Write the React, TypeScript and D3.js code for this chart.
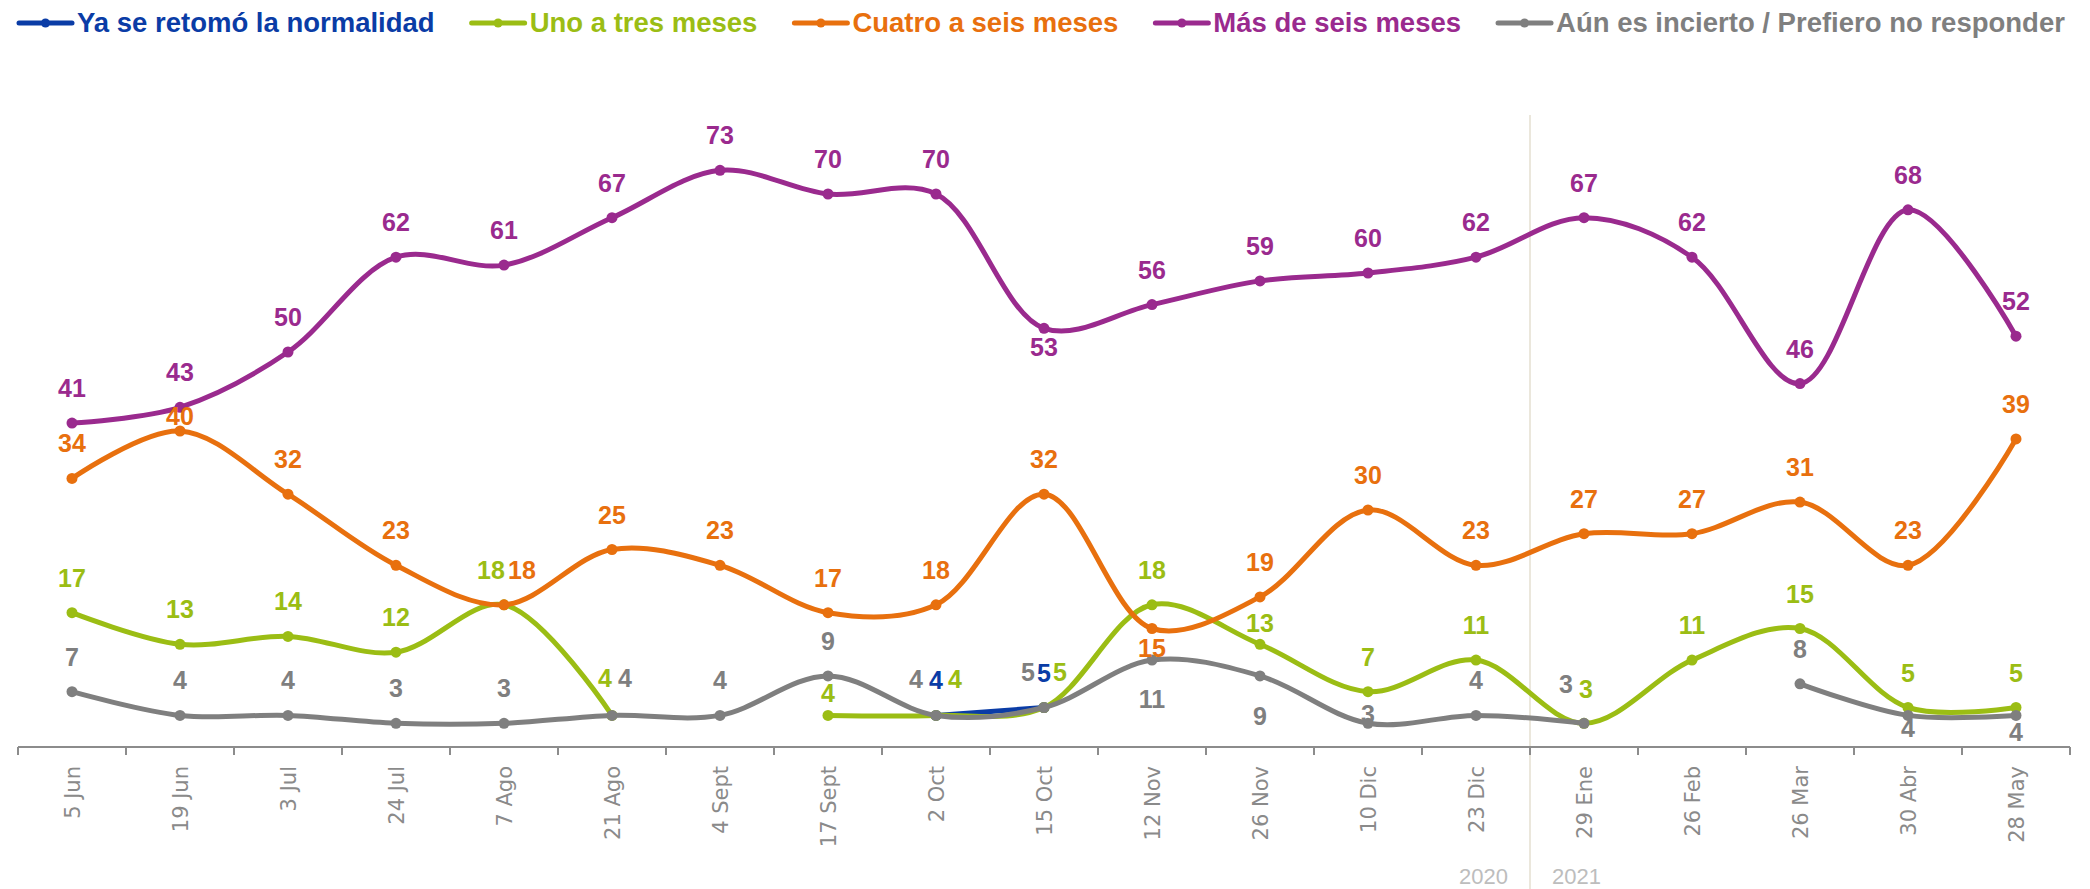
import React, { useEffect, useRef } from 'react';
import * as d3 from 'd3';

const categories = ["5 Jun", "19 Jun", "3 Jul", "24 Jul", "7 Ago", "21 Ago", "4 Sept", "17 Sept", "2 Oct", "15 Oct",
	"12 Nov", "26 Nov", "10 Dic", "23 Dic", "29 Ene", "26 Feb", "26 Mar", "30 Abr", "28 May"];

// null = no value for that round
const normalidad = [null, null, null, null, null, null, null, null, 4, 5, null, null, null, null, null, null, null, null, null];
const unoATres = [17, 13, 14, 12, 18, 4, null, 4, 4, 5, 18, 13, 7, 11, 3, 11, 15, 5, 5];
const cuatroASeis = [34, 40, 32, 23, 18, 25, 23, 17, 18, 32, 15, 19, 30, 23, 27, 27, 31, 23, 39];
const masDeSeis = [41, 43, 50, 62, 61, 67, 73, 70, 70, 53, 56, 59, 60, 62, 67, 62, 46, 68, 52];
const incierto = [7, 4, 4, 3, 3, 4, 4, 9, 4, 5, 11, 9, 3, 4, 3, null, 8, 4, 4];

const seriesNames = ["Ya se retomó la normalidad", "Uno a tres meses", "Cuatro a seis meses", "Más de seis meses", "Aún es incierto / Prefiero no responder"];
const seriesValues = [normalidad, unoATres, cuatroASeis, masDeSeis, incierto];
const seriesColors = ["#0a3ca6", "#9bbd14", "#e8700e", "#9a2a8e", "#7f7f7f"];

const yearBreak = "29 Ene";
const years = ["2020", "2021"];

// label nudges (dx, dy from the point), everything else sits above the point
const labelDefault = { dx: 0, dy: -26 };
const labelNudges = {
	"2:19 Jun": { dx: 0, dy: -6 },
	"1:7 Ago": { dx: -13, dy: -26 },
	"2:7 Ago": { dx: 18, dy: -26 },
	"1:21 Ago": { dx: -7, dy: -28 },
	"4:21 Ago": { dx: 13, dy: -28 },
	"1:17 Sept": { dx: 0, dy: -13 },
	"4:2 Oct": { dx: -20, dy: -27 },
	"1:2 Oct": { dx: 19, dy: -27 },
	"4:15 Oct": { dx: -16, dy: -27 },
	"1:15 Oct": { dx: 16, dy: -27 },
	"3:15 Oct": { dx: 0, dy: 28 },
	"2:12 Nov": { dx: 0, dy: 28 },
	"4:12 Nov": { dx: 0, dy: 48 },
	"4:26 Nov": { dx: 0, dy: 49 },
	"1:26 Nov": { dx: 0, dy: -12 },
	"4:10 Dic": { dx: 0, dy: 0 },
	"4:29 Ene": { dx: -18, dy: -30 },
	"1:29 Ene": { dx: 2, dy: -25 },
	"4:30 Abr": { dx: 0, dy: 22 },
	"4:28 May": { dx: 0, dy: 26 }
};

const width = 2090;
const height = 889;
const labelFont = "'Liberation Sans', Arial, sans-serif";
const tickFont = "'DejaVu Sans', Verdana, sans-serif";

const Legend = () => {
	const ref = useRef(null);
	useEffect(() => {
		const g = d3.select(ref.current);
		g.selectAll("*").remove();
		let cursor = 19;
		seriesNames.forEach((name, i) => {
			const item = g.append("g").attr("transform", `translate(${cursor},0)`);
			item.append("line")
				.attr("x1", 0).attr("x2", 53).attr("y1", 23).attr("y2", 23)
				.attr("stroke", seriesColors[i]).attr("stroke-width", 5).attr("stroke-linecap", "round");
			item.append("circle").attr("cx", 26.5).attr("cy", 23).attr("r", 4.5).attr("fill", seriesColors[i]);
			const t = item.append("text")
				.attr("x", 58).attr("y", 32)
				.attr("fill", seriesColors[i])
				.style("font-family", labelFont)
				.style("font-weight", "bold")
				.style("font-size", "27.5px")
				.text(name);
			const w = t.node().getComputedTextLength();
			cursor += 58 + w + 37;
		});
	}, []);
	return <g ref={ ref } />;
};

export default function App() {
	useEffect(() => {
		document.body.style.margin = "0";
		document.body.style.overflow = "hidden";
	}, []);

	const x = d3.scaleBand().domain(categories).range([18, 2070]);
	const y = d3.scaleLinear().domain([0, 80]).range([747, 115]);
	const cx = (c) => x(c) + x.bandwidth() / 2;

	const line = d3.line()
		.defined((d) => d[1] != null)
		.x((d) => cx(d[0]))
		.y((d) => y(d[1]))
		.curve(d3.curveCatmullRom.alpha(0.5));

	const boundaries = categories.map((c) => x(c)).concat([x.range()[1]]);
	const breakX = x(yearBreak);

	return (
		<svg width={ width } height={ height } style={{ display: "block", position: "fixed", left: 0, top: 0, background: "#fff" }}>
			<Legend />

			<line x1={ breakX } x2={ breakX } y1={ y(80) } y2={ height } stroke="#ebe7dc" strokeWidth={ 2 } />
			<text x={ breakX - 22 } y={ 884 } textAnchor="end" fill="#bdbdbd" style={{ fontFamily: labelFont, fontSize: 22 }}>{ years[0] }</text>
			<text x={ breakX + 22 } y={ 884 } textAnchor="start" fill="#bdbdbd" style={{ fontFamily: labelFont, fontSize: 22 }}>{ years[1] }</text>

			<g className="axis">
				<line x1={ x.range()[0] } x2={ x.range()[1] } y1={ y(0) } y2={ y(0) } stroke="#8c8c8c" strokeWidth={ 2 } />
				{ boundaries.map((b, i) => (
					<line key={ i } x1={ b } x2={ b } y1={ y(0) } y2={ y(0) + 8 } stroke="#8c8c8c" strokeWidth={ 2 } />
				)) }
				{ categories.map((c) => (
					<text key={ c }
						transform={ `translate(${cx(c)},766)rotate(-90)` }
						dy="0.36em"
						textAnchor="end"
						fill="#8a8a8a"
						style={{ fontFamily: tickFont, fontSize: 21 }}>
						{ c }
					</text>
				)) }
			</g>

			<g className="lines">
				{ seriesValues.map((values, si) => {
					const pts = categories.map((c, i) => [c, values[i]]);
					return (
						<g key={ si }>
							<path d={ line(pts) } fill="none" stroke={ seriesColors[si] } strokeWidth={ 5 } strokeLinecap="round" />
							{ pts.filter((d) => d[1] != null).map((d) => (
								<circle key={ d[0] } cx={ cx(d[0]) } cy={ y(d[1]) } r={ 5.5 } fill={ seriesColors[si] } />
							)) }
						</g>
					);
				}) }
			</g>

			<g className="labels">
				{ seriesValues.map((values, si) =>
					categories.map((c, i) => {
						if (values[i] == null) {
							return null;
						}
						const nudge = labelNudges[`${si}:${c}`] || labelDefault;
						return (
							<text key={ `${si}_${c}` }
								x={ cx(c) + nudge.dx }
								y={ y(values[i]) + nudge.dy }
								textAnchor="middle"
								fill={ seriesColors[si] }
								style={{ fontFamily: labelFont, fontWeight: "bold", fontSize: 25 }}>
								{ values[i] }
							</text>
						);
					})
				) }
			</g>
		</svg>
	);
}
